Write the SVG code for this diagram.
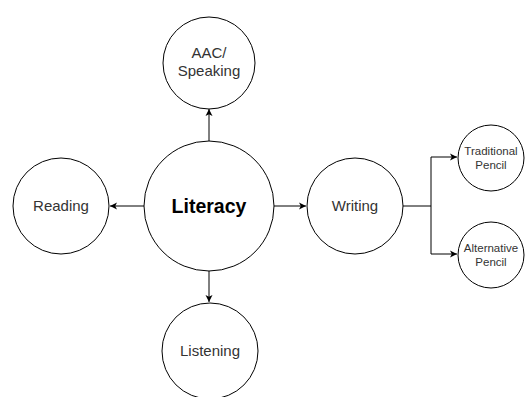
<svg xmlns="http://www.w3.org/2000/svg" width="528" height="397" viewBox="0 0 528 397">
<style>
.n{fill:#fff;stroke:#000;stroke-width:1}
.t{font-family:"Liberation Sans",Arial,sans-serif;font-size:15px;fill:#333;text-anchor:middle}
.s{font-size:11.5px}
.b{font-size:19.5px;font-weight:bold;fill:#000}
.c{fill:none;stroke:#000;stroke-width:1}
</style>
<defs>
<marker id="a" markerWidth="10" markerHeight="10" refX="7" refY="4" orient="auto" markerUnits="userSpaceOnUse">
<path d="M0,0.5 L7,4 L0,7.5 L1.8,4 Z" fill="#000"/>
</marker>
</defs>
<rect width="528" height="397" fill="#fff"/>
<g id="connectors">
<path class="c" d="M209,141 V109" marker-end="url(#a)"/>
<path class="c" d="M144,206 H110" marker-end="url(#a)"/>
<path class="c" d="M274,206 H306" marker-end="url(#a)"/>
<path class="c" d="M209,271 V302" marker-end="url(#a)"/>
<path class="c" d="M403,206 H431 V157 H457" marker-end="url(#a)"/>
<path class="c" d="M431,206 V254 H457" marker-end="url(#a)"/>
</g>
<g id="literacy"><circle class="n" cx="209" cy="206" r="65"/><text class="t b" x="209" y="213">Literacy</text></g>
<g id="aac"><circle class="n" cx="209" cy="63" r="46"/><text class="t" x="209" y="58">AAC/</text><text class="t" x="209" y="76">Speaking</text></g>
<g id="reading"><circle class="n" cx="61" cy="206" r="48"/><text class="t" x="61" y="211">Reading</text></g>
<g id="writing"><circle class="n" cx="355" cy="206" r="48"/><text class="t" x="355" y="211">Writing</text></g>
<g id="listening"><circle class="n" cx="210" cy="351" r="48"/><text class="t" x="210" y="356">Listening</text></g>
<g id="traditional"><circle class="n" cx="491" cy="158" r="33"/><text class="t s" x="491" y="155">Traditional</text><text class="t s" x="491" y="169">Pencil</text></g>
<g id="alternative"><circle class="n" cx="491" cy="255" r="33"/><text class="t s" x="491" y="252">Alternative</text><text class="t s" x="491" y="266">Pencil</text></g>
</svg>
